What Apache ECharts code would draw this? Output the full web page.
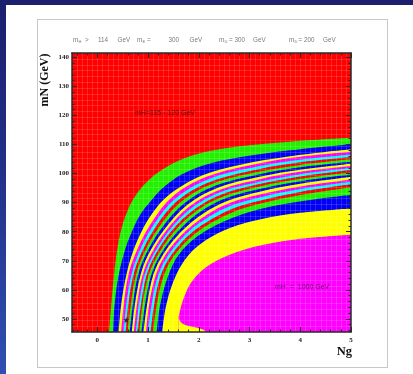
<!DOCTYPE html>
<html>
<head>
<meta charset="utf-8">
<script src="https://cdn.jsdelivr.net/npm/echarts@6/dist/echarts.min.js"></script>
<style>
  html, body { margin: 0; padding: 0; width: 413px; height: 374px; overflow: hidden;
    background: linear-gradient(180deg, #1b1f6e 0%, #223088 45%, #2f4fb2 100%); }
  #sheet { position: absolute; left: 6px; top: 5px; right: 0; bottom: 0; background: #ffffff; }
  #frame { position: absolute; left: 37px; top: 19px; width: 349px; height: 347px; border: 1px solid #c8c8c8; }
  #chart { position: absolute; left: 0; top: 0; width: 413px; height: 374px; }
</style>
</head>
<body>
<div id="sheet"></div>
<div id="frame"></div>
<div id="chart"></div>
<script>
// Axis ranges and tick labels
const ngRange = [-0.5, 5];
const mnRange = [45.5, 141.5];
const ngTicks = [0, 1, 2, 3, 4, 5];
const mnTicks = [50, 60, 70, 80, 90, 100, 110, 120, 130, 140];

// Contour edges [Ng, mN]; each one bounds the next mH band (outermost first)
const contour01 = [[0.23,45.5],[0.25,50],[0.30,60],[0.36,70],[0.46,80],[0.60,87.4],[0.76,92.6],[0.95,96.7],[1.23,100.8],[1.62,104.6],[2.12,107.4],[2.8,109.4],[3.8,111],[5,112.3]];
const contour02 = [[0.31,45.5],[0.34,55],[0.42,65],[0.54,73.5],[0.68,80],[0.85,86],[1.05,90.5],[1.3,95.2],[1.65,99.6],[2.1,102.9],[2.8,105.6],[3.8,108],[5,110.1]];
const contour03 = [[0.42,45.5],[0.47,55],[0.57,65],[0.70,73],[0.87,80],[1.07,86],[1.32,91.3],[1.65,95.6],[2.1,99.6],[2.8,103],[3.8,106],[5,108.4]];
const contour04 = [[0.47,45.5],[0.52,55],[0.61,65],[0.74,72],[1.02,81.8],[1.47,91.9],[2.15,98.9],[3.2,103.6],[4,105.8],[5,107.5]];
const contour05 = [[0.52,45.5],[0.57,55],[0.67,65],[0.80,72],[1.08,81.6],[1.53,91.3],[2.19,98.1],[3.2,102.6],[4,104.8],[5,106.6]];
const contour06 = [[0.56,45.5],[0.61,55],[0.71,65],[0.85,72],[1.14,81.4],[1.59,90.8],[2.23,97.2],[3.2,101.6],[4,103.9],[5,105.7]];
const contour07 = [[0.60,45.5],[0.66,55],[0.76,65],[0.90,72],[1.20,81.2],[1.65,90.3],[2.27,96.5],[3.2,100.7],[4,103.0],[5,104.9]];
const contour08 = [[0.64,45.5],[0.70,55],[0.80,65],[0.95,72],[1.26,81.0],[1.71,89.7],[2.31,95.7],[3.2,99.8],[4,102.2],[5,104.1]];
const contour09 = [[0.68,45.5],[0.74,55],[0.85,65],[1.00,72],[1.32,80.8],[1.77,89.2],[2.35,95.0],[3.2,98.9],[4,101.3],[5,103.4]];
const contour10 = [[0.72,45.5],[0.78,55],[0.89,65],[1.05,72],[1.37,80.7],[1.82,88.8],[2.39,94.3],[3.2,98.1],[4,100.6],[5,102.6]];
const contour11 = [[0.76,45.5],[0.82,55],[0.93,65],[1.10,72],[1.42,80.5],[1.87,88.3],[2.42,93.6],[3.2,97.2],[4,99.8],[5,101.9]];
const contour12 = [[0.79,45.5],[0.86,55],[0.97,65],[1.14,72],[1.47,80.4],[1.92,87.8],[2.46,92.9],[3.2,96.4],[4,99.0],[5,101.2]];
const contour13 = [[0.83,45.5],[0.89,55],[1.01,65],[1.19,72],[1.52,80.2],[1.97,87.4],[2.49,92.2],[3.2,95.6],[4,98.2],[5,100.5]];
const contour14 = [[0.87,45.5],[0.94,55],[1.06,65],[1.24,72],[1.58,80.0],[2.03,86.9],[2.53,91.5],[3.2,94.7],[4,97.4],[5,99.7]];
const contour15 = [[0.91,45.5],[0.98,55],[1.10,65],[1.29,72],[1.64,79.8],[2.09,86.3],[2.57,90.7],[3.2,93.8],[4,96.5],[5,98.9]];
const contour16 = [[0.96,45.5],[1.02,55],[1.15,65],[1.34,72],[1.70,79.6],[2.15,85.8],[2.61,89.9],[3.2,92.8],[4,95.6],[5,98.0]];
const contour17 = [[1.00,45.5],[1.07,55],[1.20,65],[1.40,72],[1.76,79.4],[2.21,85.2],[2.66,89.1],[3.2,91.8],[4,94.7],[5,97.2]];
const contour18 = [[1.05,45.5],[1.12,55],[1.25,65],[1.46,72],[1.83,79.2],[2.28,84.6],[2.70,88.2],[3.2,90.7],[4,93.7],[5,96.3]];
const contour19 = [[1.10,45.5],[1.17,55],[1.31,65],[1.52,72],[1.90,79.0],[2.35,84.0],[2.75,87.3],[3.2,89.6],[4,92.6],[5,95.3]];
const contour20 = [[1.17,45.5],[1.24,55],[1.40,65],[1.60,72],[1.98,78.5],[2.45,83.2],[3.0,86.8],[3.6,89.3],[4.3,91.2],[5,92.6]];
const contour21 = [[1.28,45.5],[1.36,55],[1.55,65],[1.80,72],[2.15,77.2],[2.6,81.2],[3.2,84.2],[4,86.5],[5,88]];
const contour22 = [[1.60,50.5],[1.63,53],[1.70,57],[1.83,62],[2.05,66.5],[2.35,70],[2.75,73],[3.3,75.6],[4,77.6],[5,79]];
// lower edge of the mH = 1000 GeV region (the thin yellow tongue under it)
const tongueEdge = [[1.60,50.5],[1.64,49],[1.72,48],[1.85,47.4],[2.0,46.8],[2.1,46.2],[2.14,45.5]];
// marked point
const markedPoint = [[0.57, 49.6]];

const contours = [contour01, contour02, contour03, contour04, contour05, contour06, contour07, contour08,
  contour09, contour10, contour11, contour12, contour13, contour14, contour15, contour16, contour17,
  contour18, contour19, contour20, contour21, contour22];

// band colours cycle: green, blue, yellow, magenta, cyan, red
const palette = ['#22f000', '#0000f5', '#ffff00', '#ff00ff', '#00ffff', '#ff0000'];

// minor tick positions
const ngMinor = [];
for (let i = -2; i <= 25; i++) { if (i % 5 !== 0) ngMinor.push(+(i * 0.2).toFixed(2)); }
const mnMinor = [];
for (let v = 46; v <= 141; v += 2) { if (v % 10 !== 0) mnMinor.push(v); }
// faint bin lattice of the histogram
const latticeNg = [];
for (let i = -4; i <= 49; i++) latticeNg.push(+(i * 0.1).toFixed(2));
const latticeMn = [];
for (let v = 47.5; v < 141.5; v += 2) latticeMn.push(v);

const chart = echarts.init(document.getElementById('chart'), null, { renderer: 'canvas' });

const serifFont = 'Liberation Serif';
const axisColor = '#2a2a2a';

function xAxisDef(position, ticks, len, showLine, showLabel) {
  return {
    type: 'value', min: ngRange[0], max: ngRange[1], position: position, z: 6,
    axisLine: { show: showLine, onZero: false, lineStyle: { color: axisColor, width: 1.5 } },
    axisTick: { show: true, inside: true, length: len, customValues: ticks, lineStyle: { color: axisColor, width: 1 } },
    axisLabel: { show: showLabel, customValues: ticks, margin: 5, fontFamily: serifFont, fontWeight: 'bold', fontSize: 7, color: '#222' },
    splitLine: { show: false }
  };
}
function yAxisDef(position, ticks, len, showLine, showLabel) {
  return {
    type: 'value', min: mnRange[0], max: mnRange[1], position: position, z: 6,
    axisLine: { show: showLine, onZero: false, lineStyle: { color: axisColor, width: 1.5 } },
    axisTick: { show: true, inside: true, length: len, customValues: ticks, lineStyle: { color: axisColor, width: 1 } },
    axisLabel: { show: showLabel, customValues: ticks, margin: 3, fontFamily: serifFont, fontWeight: 'bold', fontSize: 7, color: '#222' },
    splitLine: { show: false }
  };
}

const series = contours.map((pts, i) => ({
  type: 'line', data: pts, smooth: 0.35, symbol: 'none', silent: true,
  lineStyle: { opacity: 0 }, areaStyle: { color: palette[i % 6], opacity: 1, origin: 'start' }, z: 2
}));
series.push({
  type: 'line', data: tongueEdge, smooth: 0.35, symbol: 'none', silent: true,
  lineStyle: { opacity: 0 }, areaStyle: { color: palette[2], opacity: 1, origin: 'start' }, z: 2
});
series.push({
  type: 'custom', silent: true, z: 4, data: [[0, 50]],
  renderItem: function (params, api) {
    const kids = [];
    latticeNg.forEach(v => {
      const a = api.coord([v, mnRange[0]]), b = api.coord([v, mnRange[1]]);
      const x = Math.round(a[0]) + 0.5;
      kids.push({ type: 'line', shape: { x1: x, y1: a[1], x2: x, y2: b[1] }, style: { stroke: 'rgba(255,255,255,0.14)', lineWidth: 1 } });
    });
    latticeMn.forEach(v => {
      const a = api.coord([ngRange[0], v]), b = api.coord([ngRange[1], v]);
      const y = Math.round(a[1]) + 0.5;
      kids.push({ type: 'line', shape: { x1: a[0], y1: y, x2: b[0], y2: y }, style: { stroke: 'rgba(255,255,255,0.14)', lineWidth: 1 } });
    });
    return { type: 'group', children: kids };
  }
});
series.push({
  type: 'scatter', data: markedPoint, silent: true, z: 8,
  symbol: 'path://M0,-5L1.2,-1.6L5,-1.5L2,0.8L3,4.6L0,2.4L-3,4.6L-2,0.8L-5,-1.5L-1.2,-1.6Z',
  symbolSize: 6, itemStyle: { color: '#111' }
});

const headFont = 'Liberation Sans';
const headColor = '#7a7a7a';
function headText(x, txt) {
  return { type: 'text', x: x, y: 40, style: { text: txt, font: '6.3px "' + headFont + '"', fill: headColor, verticalAlign: 'middle' } };
}
function headSub(x, txt) {
  return { type: 'text', x: x, y: 42, style: { text: txt, font: '4px "' + headFont + '"', fill: headColor, verticalAlign: 'middle' } };
}

chart.setOption({
  animation: false,
  backgroundColor: 'transparent',
  grid: { left: 72, top: 53, width: 279, height: 279, show: true, backgroundColor: '#ff0000', borderWidth: 0 },
  xAxis: [
    xAxisDef('bottom', ngTicks, 5, true, true),
    xAxisDef('bottom', ngMinor, 2.5, false, false),
    xAxisDef('top', ngTicks, 5, true, false),
    xAxisDef('top', ngMinor, 2.5, false, false)
  ],
  yAxis: [
    yAxisDef('left', mnTicks, 5, true, true),
    yAxisDef('left', mnMinor, 2.5, false, false),
    yAxisDef('right', mnTicks, 5, true, false),
    yAxisDef('right', mnMinor, 2.5, false, false)
  ],
  series: series,
  graphic: [
    { type: 'text', x: 45, y: 80, rotation: Math.PI / 2,
      style: { text: 'mN (GeV)', font: 'bold 12px "' + serifFont + '"', fill: '#111', align: 'center', verticalAlign: 'middle' } },
    { type: 'text', x: 352, y: 352,
      style: { text: 'Ng', font: 'bold 12.5px "' + serifFont + '"', fill: '#111', align: 'right', verticalAlign: 'middle' } },
    headText(73, 'm'), headSub(78.5, 'H'), headText(85, '>'), headText(98, '114'), headText(117.5, 'GeV'),
    headText(137, 'm'), headSub(142.5, 'E'), headText(147, '='), headText(168.5, '300'), headText(189.5, 'GeV'),
    headText(219, 'm'), headSub(224.5, 'U'), headText(229, '= 300'), headText(253, 'GeV'),
    headText(289, 'm'), headSub(294.5, 'D'), headText(298.5, '= 200'), headText(323, 'GeV'),
    { type: 'text', x: 135, y: 113, z: 10,
      style: { text: 'mH=115 - 120 GeV', font: '7px "' + headFont + '"', fill: 'rgba(50,15,15,0.8)', verticalAlign: 'middle' } },
    { type: 'text', x: 275, y: 287, z: 10,
      style: { text: 'mH  =  1000 GeV', font: '7px "' + headFont + '"', fill: 'rgba(70,20,70,0.85)', verticalAlign: 'middle' } }
  ]
});
</script>
</body>
</html>
